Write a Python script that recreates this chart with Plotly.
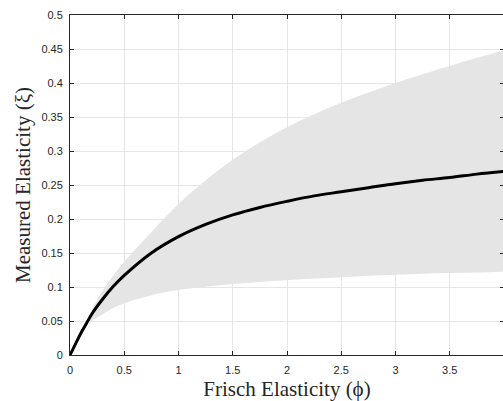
import plotly.graph_objects as go

# Frisch elasticity (x) and measured elasticity (y)
phi = [0.0, 0.05, 0.1, 0.15, 0.2, 0.3, 0.4, 0.5, 0.75, 1.0, 1.25, 1.5, 1.75,
       2.0, 2.25, 2.5, 2.75, 3.0, 3.25, 3.5, 3.75, 4.0]
xi_mid = [0.0, 0.016, 0.032, 0.046, 0.060, 0.082, 0.101, 0.117, 0.150, 0.174,
          0.192, 0.206, 0.217, 0.226, 0.234, 0.240, 0.246, 0.252, 0.257,
          0.261, 0.266, 0.270]
xi_upper = [0.0, 0.017, 0.033, 0.049, 0.066, 0.094, 0.117, 0.137, 0.181,
            0.222, 0.257, 0.287, 0.313, 0.335, 0.354, 0.371, 0.386, 0.400,
            0.413, 0.425, 0.437, 0.448]
xi_lower = [0.0, 0.015, 0.030, 0.043, 0.050, 0.060, 0.069, 0.076, 0.088,
            0.0955, 0.1005, 0.1045, 0.1075, 0.110, 0.1125, 0.1145, 0.1165,
            0.118, 0.1195, 0.1205, 0.1215, 0.1225]

x_ticks = [0, 0.5, 1, 1.5, 2, 2.5, 3, 3.5, 4]
x_ticklabels = ["0", "0.5", "1", "1.5", "2", "2.5", "3", "3.5", "4"]
y_ticks = [0, 0.05, 0.1, 0.15, 0.2, 0.25, 0.3, 0.35, 0.4, 0.45, 0.5]
y_ticklabels = ["0", "0.05", "0.1", "0.15", "0.2", "0.25", "0.3", "0.35",
                "0.4", "0.45", "0.5"]

axis_col = "#262626"
grid_col = "#e6e6e6"
band_col = "#e5e5e5"

fig = go.Figure()
fig.add_trace(go.Scatter(x=phi, y=xi_lower, mode="lines",
                         line=dict(width=0, color=band_col, shape="spline", smoothing=1.0),
                         hoverinfo="skip", showlegend=False))
fig.add_trace(go.Scatter(x=phi, y=xi_upper, mode="lines", fill="tonexty",
                         fillcolor=band_col,
                         line=dict(width=0, color=band_col, shape="spline", smoothing=1.0),
                         hoverinfo="skip", showlegend=False))
fig.add_trace(go.Scatter(x=phi, y=xi_mid, mode="lines",
                         line=dict(width=3, color="black", shape="spline", smoothing=1.0),
                         showlegend=False))

tick_font = dict(family="Liberation Sans, Arial, sans-serif", size=11, color=axis_col)
title_font = dict(family="Liberation Serif, Times New Roman, serif", size=21, color=axis_col)

fig.update_layout(
    width=505, height=401,
    margin=dict(l=70, r=1, t=15, b=46, pad=0),
    paper_bgcolor="white", plot_bgcolor="white",
    xaxis=dict(range=[0, 4], tickvals=x_ticks, ticktext=x_ticklabels,
               showgrid=True, gridcolor=grid_col, gridwidth=1,
               showline=True, linecolor=axis_col, linewidth=1, mirror="ticks",
               ticks="inside", ticklen=4, tickcolor=axis_col, tickwidth=1,
               zeroline=False, tickfont=tick_font, automargin=False,
               ticklabelstandoff=5,
               title=dict(text="Frisch Elasticity (ϕ)", font=title_font, standoff=6)),
    yaxis=dict(range=[0, 0.5], tickvals=y_ticks, ticktext=y_ticklabels,
               showgrid=True, gridcolor=grid_col, gridwidth=1,
               showline=True, linecolor=axis_col, linewidth=1, mirror="ticks",
               ticks="inside", ticklen=4, tickcolor=axis_col, tickwidth=1,
               zeroline=False, tickfont=tick_font, automargin=False,
               ticklabelstandoff=4,
               title=dict(text="Measured Elasticity (ξ)", font=title_font, standoff=5)),
)

page_fix = ("document.documentElement.style.margin='0';"
            "document.body.style.margin='0';"
            "document.documentElement.style.overflow='hidden';"
            "document.body.style.overflow='hidden';")

fig.write_html("out.html", post_script=page_fix,
               config={"displayModeBar": False})
